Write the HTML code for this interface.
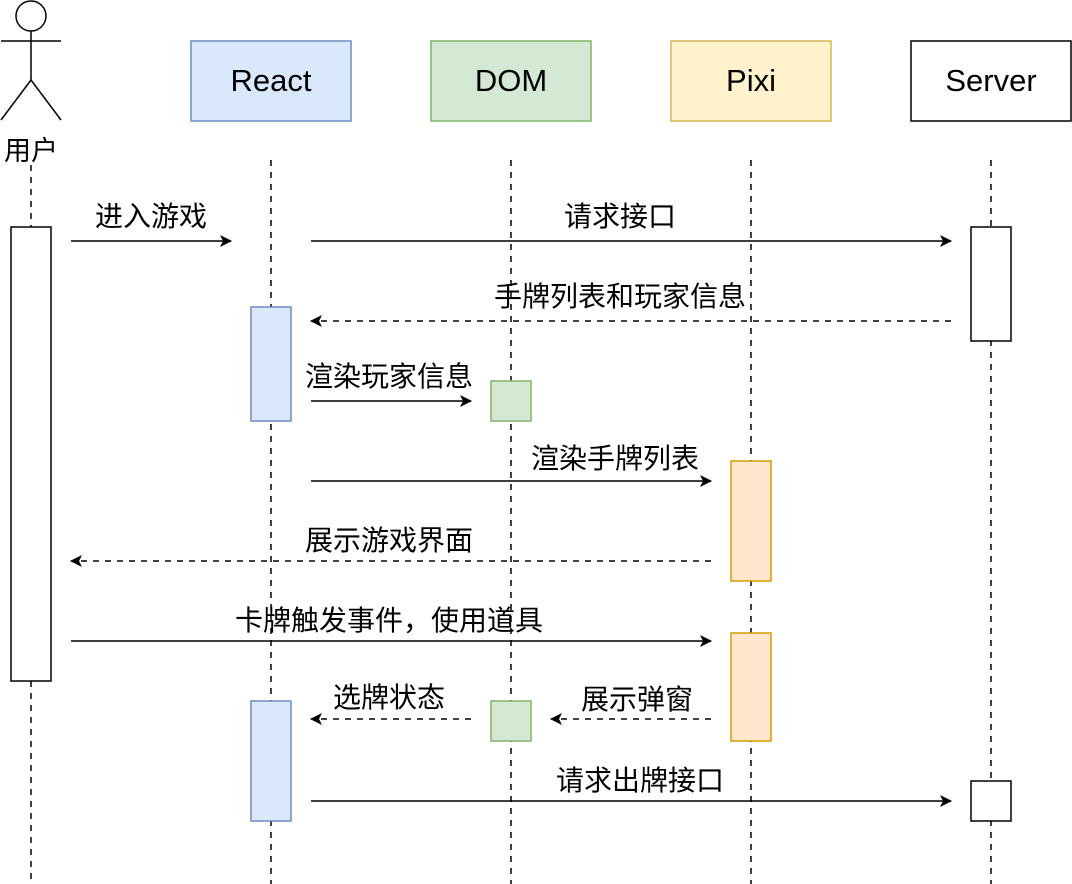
<!DOCTYPE html>
<html><head><meta charset="utf-8"><style>
body{margin:0;background:#fff;}
svg{display:block;}
text{font-family:"Liberation Sans","Noto Sans CJK SC",sans-serif;fill:#000;}
</style></head><body>
<svg width="1072" height="884" viewBox="0 0 1072 884" xmlns="http://www.w3.org/2000/svg">
<defs>
<marker id="a" markerWidth="12" markerHeight="12" refX="11" refY="6" orient="auto" markerUnits="userSpaceOnUse">
<path d="M0,0 L12,6 L0,12 L3,6 Z" fill="#000"/>
</marker>
</defs>
<g stroke="#000" stroke-width="1.5" fill="none">
<circle cx="31" cy="16" r="15" fill="#fff"/>
<line x1="31" y1="31" x2="31" y2="80"/>
<line x1="1" y1="41" x2="61" y2="41"/>
<line x1="31" y1="80" x2="1" y2="120"/>
<line x1="31" y1="80" x2="61" y2="120"/>
</g>
<text x="31" y="160" font-size="27" text-anchor="middle">用户</text>
<rect x="191" y="41" width="160" height="80" fill="#dae8fc" stroke="#6c8ebf" stroke-width="1.5"/>
<rect x="431" y="41" width="160" height="80" fill="#d5e8d4" stroke="#82b366" stroke-width="1.5"/>
<rect x="671" y="41" width="160" height="80" fill="#fff2cc" stroke="#d6b656" stroke-width="1.5"/>
<rect x="911" y="41" width="160" height="80" fill="#fff" stroke="#000" stroke-width="1.5"/>
<g font-size="31" text-anchor="middle">
<text x="271" y="91">React</text><text x="511" y="91">DOM</text><text x="751" y="91">Pixi</text><text x="991" y="91">Server</text>
</g>
<g stroke="#000" stroke-width="1.5" stroke-dasharray="6,6">
<line x1="31" y1="165" x2="31" y2="884"/>
<line x1="271" y1="160" x2="271" y2="884"/>
<line x1="511" y1="160" x2="511" y2="884"/>
<line x1="751" y1="160" x2="751" y2="884"/>
<line x1="991" y1="160" x2="991" y2="884"/>
</g>
<g stroke-width="1.5">
<rect x="11" y="227" width="40" height="454" fill="#fff" stroke="#000"/>
<rect x="971" y="227" width="40" height="114" fill="#fff" stroke="#000"/>
<rect x="251" y="307" width="40" height="114" fill="#dae8fc" stroke="#6c8ebf"/>
<rect x="491" y="381" width="40" height="40" fill="#d5e8d4" stroke="#82b366"/>
<rect x="731" y="461" width="40" height="120" fill="#ffe6cc" stroke="#d79b00"/>
<rect x="731" y="633" width="40" height="108" fill="#ffe6cc" stroke="#d79b00"/>
<rect x="251" y="701" width="40" height="120" fill="#dae8fc" stroke="#6c8ebf"/>
<rect x="491" y="701" width="40" height="40" fill="#d5e8d4" stroke="#82b366"/>
<rect x="971" y="781" width="40" height="40" fill="#fff" stroke="#000"/>
</g>
<g stroke="#000" stroke-width="1.5" fill="none" marker-end="url(#a)">
<line x1="71" y1="241" x2="231" y2="241"/>
<line x1="311" y1="241" x2="951" y2="241"/>
<line x1="951" y1="321" x2="311" y2="321" stroke-dasharray="6,6"/>
<line x1="311" y1="401" x2="471" y2="401"/>
<line x1="311" y1="481" x2="711" y2="481"/>
<line x1="711" y1="561" x2="71" y2="561" stroke-dasharray="6,6"/>
<line x1="71" y1="641" x2="711" y2="641"/>
<line x1="471" y1="719" x2="311" y2="719" stroke-dasharray="6,6"/>
<line x1="711" y1="719" x2="551" y2="719" stroke-dasharray="6,6"/>
<line x1="311" y1="801" x2="951" y2="801"/>
</g>
<g font-size="28" text-anchor="middle">
<text x="151" y="226">进入游戏</text>
<text x="620" y="226">请求接口</text>
<text x="620" y="306">手牌列表和玩家信息</text>
<text x="389" y="386">渲染玩家信息</text>
<text x="615" y="468">渲染手牌列表</text>
<text x="389" y="550">展示游戏界面</text>
<text x="389" y="630">卡牌触发事件，使用道具</text>
<text x="389" y="707">选牌状态</text>
<text x="637" y="709">展示弹窗</text>
<text x="640" y="790">请求出牌接口</text>
</g>
</svg>
</body></html>
